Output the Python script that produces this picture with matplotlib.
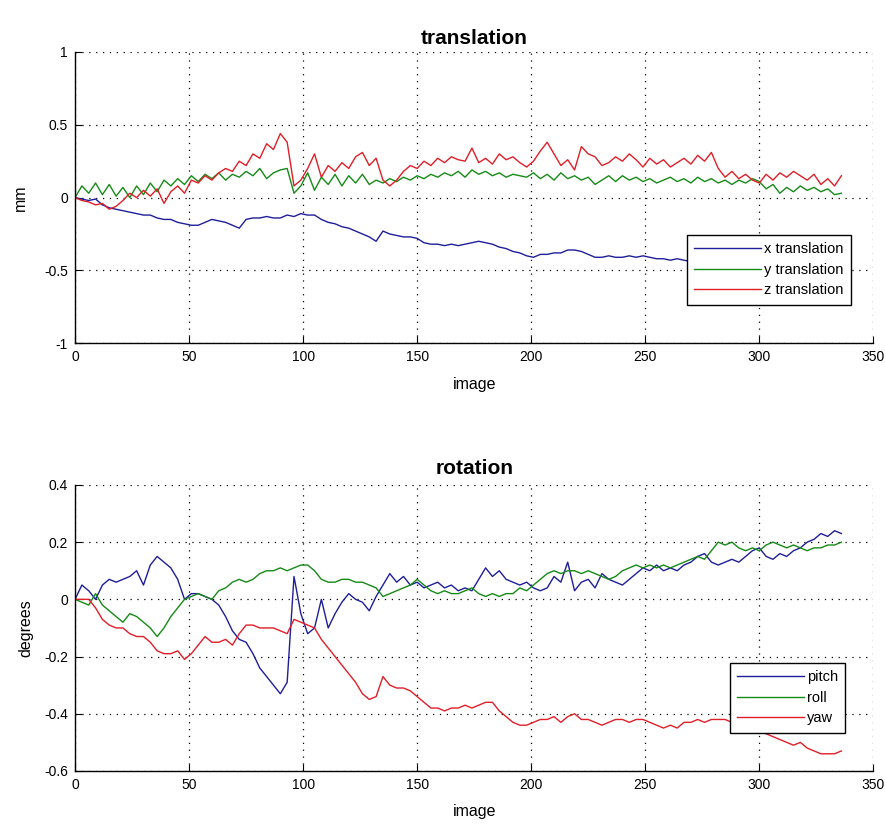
import numpy as np
import matplotlib
matplotlib.use("Agg")
import matplotlib.pyplot as plt
from matplotlib import font_manager

# ---------------- data ----------------
image = np.arange(0, 337, 3)

x_translation = [
    0.0, -0.01, -0.02, -0.01, -0.05, -0.07, -0.08, -0.09, -0.1, -0.11,
    -0.12, -0.12, -0.14, -0.15, -0.15, -0.17, -0.18, -0.19, -0.19, -0.17,
    -0.15, -0.16, -0.17, -0.19, -0.21, -0.15, -0.14, -0.14, -0.13, -0.14,
    -0.14, -0.12, -0.13, -0.11, -0.12, -0.12, -0.15, -0.17, -0.18, -0.2,
    -0.21, -0.23, -0.25, -0.27, -0.3, -0.23, -0.25, -0.26, -0.27, -0.27,
    -0.28, -0.31, -0.32, -0.32, -0.33, -0.32, -0.33, -0.32, -0.31, -0.3,
    -0.31, -0.32, -0.34, -0.35, -0.37, -0.38, -0.4, -0.41, -0.39, -0.39,
    -0.38, -0.38, -0.36, -0.36, -0.37, -0.39, -0.41, -0.41, -0.4, -0.41,
    -0.41, -0.4, -0.41, -0.4, -0.41, -0.42, -0.42, -0.43, -0.42, -0.43,
    -0.44, -0.44, -0.45, -0.45, -0.46, -0.46, -0.47, -0.47, -0.48, -0.48,
    -0.49, -0.49, -0.5, -0.5, -0.5, -0.51, -0.51, -0.52, -0.52, -0.52,
    -0.53, -0.53, -0.53]

y_translation = [
    0.0, 0.08, 0.03, 0.1, 0.02, 0.09, 0.01, 0.07, 0.0, 0.08,
    0.02, 0.1, 0.04, 0.12, 0.08, 0.13, 0.09, 0.15, 0.11, 0.16,
    0.13, 0.17, 0.12, 0.16, 0.14, 0.18, 0.15, 0.2, 0.13, 0.17,
    0.19, 0.2, 0.03, 0.08, 0.17, 0.05, 0.14, 0.09, 0.16, 0.08,
    0.15, 0.1, 0.16, 0.09, 0.12, 0.1, 0.13, 0.11, 0.14, 0.12,
    0.15, 0.13, 0.16, 0.14, 0.17, 0.15, 0.18, 0.14, 0.19, 0.16,
    0.18, 0.15, 0.17, 0.14, 0.16, 0.15, 0.14, 0.17, 0.13, 0.16,
    0.12, 0.17, 0.13, 0.15, 0.12, 0.14, 0.09, 0.12, 0.15, 0.11,
    0.15, 0.12, 0.14, 0.11, 0.13, 0.1, 0.12, 0.14, 0.11, 0.13,
    0.1, 0.14, 0.11, 0.13, 0.1, 0.12, 0.09, 0.12, 0.1, 0.13,
    0.11, 0.06, 0.09, 0.03, 0.07, 0.04, 0.08, 0.05, 0.07, 0.04,
    0.06, 0.02, 0.03]

z_translation = [
    0.0, -0.02, -0.03, -0.05, -0.04, -0.08, -0.06, -0.02, 0.03, 0.0,
    0.05, 0.01, 0.06, -0.04, 0.04, 0.08, 0.03, 0.12, 0.1, 0.15,
    0.12, 0.17, 0.2, 0.18, 0.25, 0.22, 0.3, 0.27, 0.37, 0.33,
    0.44, 0.38, 0.08, 0.12, 0.2, 0.3, 0.14, 0.22, 0.18, 0.24,
    0.2, 0.28, 0.31, 0.22, 0.27, 0.12, 0.08, 0.12, 0.18, 0.22,
    0.2, 0.25, 0.22, 0.27, 0.24, 0.28, 0.26, 0.25, 0.34, 0.24,
    0.27, 0.23, 0.3, 0.26, 0.28, 0.24, 0.21, 0.25, 0.32, 0.38,
    0.3, 0.22, 0.26, 0.19, 0.35, 0.3, 0.28, 0.22, 0.24, 0.28,
    0.25, 0.3, 0.26, 0.21, 0.27, 0.23, 0.26, 0.21, 0.24, 0.27,
    0.23, 0.29, 0.25, 0.31, 0.2, 0.14, 0.18, 0.13, 0.16, 0.12,
    0.1, 0.16, 0.12, 0.17, 0.14, 0.18, 0.15, 0.12, 0.16, 0.09,
    0.13, 0.08, 0.15]

pitch = [
    0.0, 0.05, 0.03, 0.0, 0.05, 0.07, 0.06, 0.07, 0.08, 0.1,
    0.05, 0.12, 0.15, 0.13, 0.11, 0.07, 0.0, 0.02, 0.02, 0.01,
    0.0, -0.02, -0.06, -0.11, -0.14, -0.15, -0.19, -0.24, -0.27, -0.3,
    -0.33, -0.29, 0.08, -0.05, -0.12, -0.1, 0.0, -0.1, -0.05, -0.01,
    0.02, 0.0, -0.01, -0.04, 0.01, 0.05, 0.09, 0.06, 0.08, 0.05,
    0.06, 0.04, 0.05, 0.06, 0.04, 0.05, 0.03, 0.04, 0.03, 0.07,
    0.11, 0.08, 0.1, 0.07, 0.06, 0.05, 0.06, 0.04, 0.03, 0.04,
    0.08, 0.06, 0.13, 0.03, 0.06, 0.07, 0.04, 0.09, 0.07, 0.06,
    0.05, 0.07, 0.09, 0.11, 0.1, 0.12, 0.1, 0.11, 0.1, 0.12,
    0.13, 0.15, 0.16, 0.13, 0.12, 0.13, 0.14, 0.13, 0.15, 0.17,
    0.18, 0.15, 0.14, 0.16, 0.15, 0.17, 0.18, 0.2, 0.21, 0.23,
    0.22, 0.24, 0.23]

roll = [
    0.0, -0.01, -0.02, 0.02, -0.02, -0.04, -0.06, -0.08, -0.05, -0.06,
    -0.08, -0.1, -0.13, -0.1, -0.06, -0.03, 0.0, 0.01, 0.02, 0.01,
    0.0, 0.03, 0.04, 0.06, 0.07, 0.06, 0.07, 0.09, 0.1, 0.1,
    0.11, 0.1, 0.11, 0.12, 0.12, 0.1, 0.07, 0.06, 0.06, 0.07,
    0.07, 0.06, 0.06, 0.05, 0.04, 0.01, 0.02, 0.03, 0.04, 0.05,
    0.07, 0.05, 0.03, 0.02, 0.03, 0.02, 0.02, 0.03, 0.04, 0.02,
    0.01, 0.02, 0.01, 0.02, 0.02, 0.04, 0.03, 0.05, 0.07, 0.09,
    0.1, 0.09, 0.1, 0.1, 0.09, 0.1, 0.09, 0.08, 0.07, 0.08,
    0.1, 0.11, 0.12, 0.11, 0.12, 0.11, 0.12, 0.11, 0.12, 0.13,
    0.14, 0.15, 0.14, 0.17, 0.2, 0.19, 0.2, 0.18, 0.17, 0.18,
    0.17, 0.19, 0.2, 0.19, 0.18, 0.19, 0.18, 0.17, 0.18, 0.18,
    0.19, 0.19, 0.2]

yaw = [
    0.0, 0.0, 0.0, -0.03, -0.07, -0.09, -0.1, -0.1, -0.12, -0.13,
    -0.13, -0.15, -0.18, -0.19, -0.19, -0.18, -0.21, -0.19, -0.16, -0.13,
    -0.15, -0.15, -0.14, -0.16, -0.12, -0.09, -0.09, -0.1, -0.1, -0.1,
    -0.11, -0.12, -0.07, -0.08, -0.09, -0.1, -0.14, -0.17, -0.2, -0.23,
    -0.26, -0.29, -0.33, -0.35, -0.34, -0.27, -0.3, -0.31, -0.31, -0.32,
    -0.34, -0.36, -0.38, -0.38, -0.39, -0.38, -0.38, -0.37, -0.38, -0.37,
    -0.36, -0.36, -0.39, -0.41, -0.43, -0.44, -0.44, -0.43, -0.42, -0.42,
    -0.41, -0.43, -0.41, -0.4, -0.42, -0.42, -0.43, -0.44, -0.43, -0.42,
    -0.42, -0.43, -0.42, -0.42, -0.43, -0.44, -0.45, -0.44, -0.45, -0.43,
    -0.43, -0.42, -0.43, -0.42, -0.42, -0.42, -0.43, -0.44, -0.45, -0.45,
    -0.46, -0.47, -0.48, -0.49, -0.5, -0.51, -0.5, -0.52, -0.53, -0.54,
    -0.54, -0.54, -0.53]

top_labels = ["x translation", "y translation", "z translation"]
bottom_labels = ["pitch", "roll", "yaw"]
x_ticks = [0, 50, 100, 150, 200, 250, 300, 350]
top_yticks = [-1, -0.5, 0, 0.5, 1]
top_yticklabels = ["-1", "-0.5", "0", "0.5", "1"]
bot_yticks = [-0.6, -0.4, -0.2, 0, 0.2, 0.4]
bot_yticklabels = ["-0.6", "-0.4", "-0.2", "0", "0.2", "0.4"]

# ---------------- style ----------------
names = {f.name for f in font_manager.fontManager.ttflist}
fam = ["Liberation Sans Narrow"] if "Liberation Sans Narrow" in names else ["Liberation Sans", "DejaVu Sans"]
plt.rcParams["font.family"] = fam

colors = ["#1e1e9a", "#168a16", "#e01e28"]

fig = plt.figure(figsize=(8.87, 8.25), dpi=100)
ax1 = fig.add_axes([0.0846, 0.584, 0.900, 0.353])
ax2 = fig.add_axes([0.0846, 0.0655, 0.900, 0.3467])


def style(ax, yticks, ylabels, ylim):
    ax.set_xlim(0, 350)
    ax.set_ylim(*ylim)
    ax.set_xticks(x_ticks)
    ax.set_xticklabels([str(v) for v in x_ticks])
    ax.set_yticks(yticks)
    ax.set_yticklabels(ylabels)
    ax.grid(True, linestyle=(0, (1, 4.5)), color="black", linewidth=0.9)
    for s in ["top", "right"]:
        ax.spines[s].set_visible(False)
    for s in ["left", "bottom"]:
        ax.spines[s].set_linewidth(1.0)
    ax.tick_params(direction="in", length=5, labelsize=10, pad=5)
    ax.set_xlabel("image", fontsize=11.5, labelpad=9)


for series, lab, c in zip([x_translation, y_translation, z_translation], top_labels, colors):
    ax1.plot(image, series, color=c, linewidth=1.0, label=lab)
style(ax1, top_yticks, top_yticklabels, (-1, 1))
ax1.set_ylabel("mm", fontsize=11.5, labelpad=12)
ax1.set_title("translation", fontsize=15, fontweight="bold", pad=6)
leg1 = ax1.legend(loc="lower right", bbox_to_anchor=(0.981, 0.107), fontsize=10.5,
                  handlelength=4.6, handletextpad=0.2, borderpad=0.5, labelspacing=0.45,
                  fancybox=False, framealpha=1, edgecolor="black")
leg1.get_frame().set_linewidth(1.0)

for series, lab, c in zip([pitch, roll, yaw], bottom_labels, colors):
    ax2.plot(image, series, color=c, linewidth=1.0, label=lab)
style(ax2, bot_yticks, bot_yticklabels, (-0.6, 0.4))
ax2.set_ylabel("degrees", fontsize=11.5, labelpad=8)
ax2.set_title("rotation", fontsize=15, fontweight="bold", pad=8)
leg2 = ax2.legend(loc="lower right", bbox_to_anchor=(0.974, 0.108), fontsize=10.5,
                  handlelength=4.6, handletextpad=0.2, borderpad=0.5, labelspacing=0.45,
                  fancybox=False, framealpha=1, edgecolor="black")
leg2.get_frame().set_linewidth(1.0)

fig.savefig("out.png", dpi=100)
